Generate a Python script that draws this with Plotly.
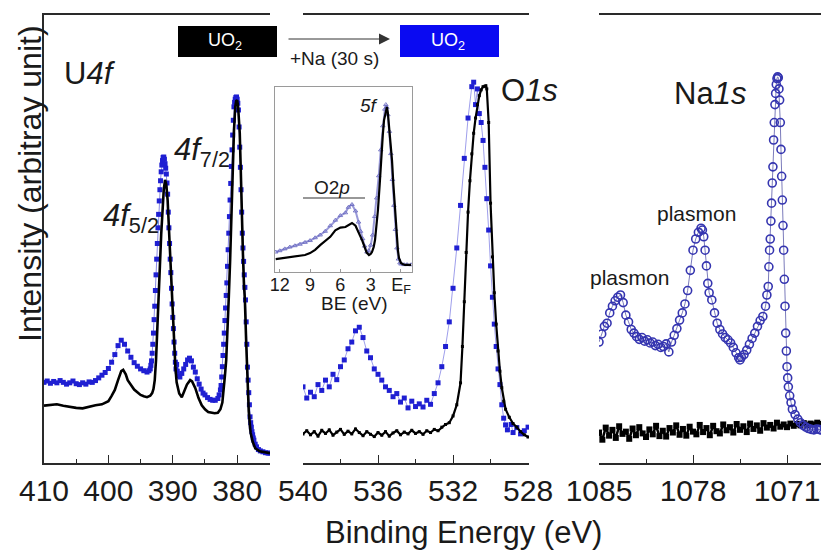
import plotly.graph_objects as go

# ---------------- data ----------------
# U 4f panel
u4f_be_blue = [410.0, 409.5, 409.0, 408.5, 408.0, 407.5, 407.0, 406.5, 406.0, 405.5, 405.0, 404.5, 404.0, 403.5,
               403.0, 402.5, 402.0, 401.5, 401.0, 400.5, 400.0, 399.5, 399.0, 398.5, 398.0, 397.5, 397.0, 396.5,
               396.0, 395.5, 395.0, 394.5, 394.0, 393.7, 393.5, 393.4, 393.3, 393.2, 393.1, 393.0, 392.9, 392.8,
               392.7, 392.6, 392.5, 392.4, 392.3, 392.2, 392.1, 392.0, 391.9, 391.8, 391.7, 391.6, 391.5, 391.4,
               391.3, 391.2, 391.1, 391.0, 390.9, 390.8, 390.7, 390.6, 390.5, 390.4, 390.3, 390.2, 390.1, 390.0,
               389.9, 389.8, 389.7, 389.6, 389.5, 389.4, 389.3, 389.1, 388.9, 388.6, 388.3, 388.0, 387.7, 387.4,
               387.1, 386.8, 386.5, 386.2, 385.9, 385.6, 385.3, 385.0, 384.6, 384.2, 383.8, 383.4, 383.0, 382.8,
               382.6, 382.5, 382.4, 382.3, 382.2, 382.1, 382.0, 381.9, 381.8, 381.7, 381.6, 381.5, 381.4, 381.3,
               381.2, 381.1, 381.0, 380.9, 380.8, 380.7, 380.6, 380.5, 380.4, 380.3, 380.2, 380.1, 380.0, 379.9,
               379.8, 379.7, 379.6, 379.5, 379.4, 379.3, 379.2, 379.1, 379.0, 378.9, 378.8, 378.7, 378.6, 378.5,
               378.4, 378.3, 378.2, 378.1, 378.0, 377.9, 377.8, 377.7, 377.6, 377.5, 377.4, 377.2, 377.0, 376.7,
               376.4, 376.0, 375.6, 375.2, 374.9]
u4f_int_blue = [18.0, 18.3, 17.8, 18.2, 17.9, 18.4, 18.0, 17.6, 17.9, 18.3, 17.7, 17.5, 17.9, 17.6,
                18.1, 18.0, 18.4, 19.0, 19.6, 20.2, 21.1, 22.5, 24.2, 26.2, 27.4, 26.5, 25.0, 23.6,
                22.4, 21.6, 21.0, 20.6, 20.3, 20.6, 21.0, 21.8, 22.8, 24.5, 26.5, 29.0, 32.0, 35.0,
                38.5, 42.0, 45.5, 49.0, 52.5, 55.5, 58.5, 61.0, 63.0, 65.0, 66.5, 67.5, 68.2, 68.3,
                67.8, 66.8, 65.8, 64.5, 62.5, 60.0, 56.0, 52.5, 49.0, 45.5, 42.5, 39.0, 35.5, 32.5,
                30.0, 27.0, 24.5, 22.5, 21.0, 22.0, 20.5, 19.5, 19.2, 20.0, 21.0, 22.0, 23.0, 23.4,
                22.8, 21.4, 20.3, 18.8, 17.6, 16.5, 15.6, 15.2, 14.6, 14.2, 14.0, 14.0, 14.4, 15.2,
                16.3, 17.3, 19.2, 21.5, 24.0, 26.5, 29.0, 31.8, 34.6, 37.4, 40.2, 43.9, 47.6, 51.3,
                55.0, 58.7, 62.4, 66.2, 69.9, 73.2, 76.5, 79.5, 80.5, 81.2, 81.6, 81.7, 81.2, 80.3,
                78.8, 75.0, 70.5, 66.0, 61.0, 56.0, 51.3, 48.0, 45.0, 42.0, 39.2, 36.4, 31.5, 26.5,
                21.4, 18.5, 15.7, 13.0, 10.3, 9.0, 8.0, 7.0, 6.3, 5.6, 5.1, 4.2, 3.6, 3.0,
                2.7, 2.5, 2.3, 2.2, 2.2]

u4f_be_black = [410.0, 409.0, 408.0, 407.0, 406.0, 405.0, 404.0, 403.0, 402.0, 401.0, 400.5, 400.0, 399.5,
                399.0, 398.5, 398.0, 397.7, 397.3, 397.0, 396.5, 396.0, 395.5, 395.0, 394.5, 394.0, 393.5,
                393.2, 393.0, 392.8, 392.6, 392.4, 392.2, 392.0, 391.8, 391.6, 391.4, 391.2, 391.0, 390.8,
                390.6, 390.4, 390.2, 390.0, 389.8, 389.6, 389.4, 389.0, 388.6, 388.2, 387.8, 387.3, 387.0,
                386.5, 386.0, 385.5, 385.0, 384.5, 384.0, 383.5, 383.0, 382.6, 382.3, 382.1, 381.9, 381.7,
                381.5, 381.3, 381.1, 380.9, 380.7, 380.5, 380.3, 380.15, 380.0, 379.85, 379.7, 379.6, 379.45,
                379.3, 379.1, 378.95, 378.8, 378.6, 378.4, 378.2, 378.0, 377.9, 377.6, 377.2, 376.5, 375.5,
                374.9]
u4f_int_black = [12.8, 12.9, 13.1, 12.8, 12.5, 12.3, 12.2, 12.6, 12.9, 13.1, 13.4, 13.8, 15.0,
                 16.3, 18.5, 20.5, 20.8, 19.8, 18.5, 17.3, 16.4, 15.8, 15.2, 14.9, 14.7, 15.0,
                 15.6, 16.5, 18.5, 23.0, 29.0, 37.0, 44.0, 51.0, 57.0, 61.0, 63.2, 62.0, 58.7,
                 52.0, 45.0, 38.0, 31.5, 26.0, 21.5, 18.0, 15.5, 14.7, 16.0, 17.5, 18.5, 18.2,
                 16.7, 14.5, 12.9, 12.0, 11.4, 11.2, 11.1, 11.2, 12.0, 13.5, 16.0, 19.5, 23.0,
                 29.0, 37.0, 45.0, 55.0, 66.0, 74.0, 79.5, 80.8, 81.0, 79.5, 76.0, 73.7, 66.0,
                 55.0, 46.5, 40.0, 36.4, 27.0, 17.9, 11.5, 8.0, 6.7, 4.8, 3.3, 2.6, 2.3,
                 2.2]

# O 1s panel
o1s_be_blue = [540.0, 539.8, 539.6, 539.4, 539.2, 539.0, 538.8, 538.6, 538.4, 538.2, 538.0, 537.8, 537.6,
               537.4, 537.2, 537.0, 536.8, 536.6, 536.4, 536.2, 536.0, 535.8, 535.6, 535.4, 535.2, 535.0,
               534.8, 534.6, 534.4, 534.2, 534.0, 533.8, 533.6, 533.4, 533.2, 533.0, 532.8, 532.6, 532.4,
               532.2, 532.0, 531.8, 531.6, 531.4, 531.2, 531.0, 530.9, 530.8, 530.7, 530.6, 530.5, 530.4,
               530.3, 530.2, 530.1, 530.0, 529.9, 529.8, 529.7, 529.6, 529.5, 529.4, 529.3, 529.2, 529.1,
               528.9, 528.8, 528.6, 528.4, 528.2, 528.0]
o1s_int_blue = [17.0, 14.5, 15.8, 14.8, 17.5, 16.2, 18.5, 17.0, 19.8, 18.6, 21.5, 23.0, 25.5,
                27.0, 29.5, 30.3, 28.0, 25.0, 23.5, 21.0, 19.8, 18.5, 17.0, 16.2, 14.8, 15.5,
                13.6, 14.5, 12.3, 13.8, 12.6, 13.2, 12.5, 14.0, 13.1, 15.5, 17.9, 21.5, 26.0,
                31.5, 39.0, 48.0, 57.5, 68.0, 77.0, 84.0, 85.0, 80.0, 83.5, 78.0, 76.0, 72.0,
                66.0, 59.0, 52.0, 44.0, 37.0, 31.0, 26.0, 21.0, 17.5, 13.0, 10.0, 8.5, 7.4,
                8.6, 6.8, 7.9, 6.5, 7.2, 8.0]

o1s_be_black = [540.0, 539.8, 539.6, 539.4, 539.2, 539.0, 538.8, 538.6, 538.4, 538.2, 538.0, 537.8, 537.6,
                537.4, 537.2, 537.0, 536.8, 536.6, 536.4, 536.2, 536.0, 535.8, 535.6, 535.4, 535.2, 535.0,
                534.8, 534.6, 534.4, 534.2, 534.0, 533.8, 533.6, 533.4, 533.2, 533.0, 532.8, 532.6, 532.4,
                532.2, 532.0, 531.8, 531.6, 531.5, 531.4, 531.3, 531.2, 531.1, 531.0, 530.9, 530.8, 530.7,
                530.6, 530.5, 530.4, 530.3, 530.25, 530.2, 530.1, 530.0, 529.9, 529.8, 529.7, 529.6, 529.5,
                529.4, 529.3, 529.2, 529.0, 528.8, 528.6, 528.4, 528.2, 528.0]
o1s_int_black = [6.5, 7.2, 6.3, 7.0, 6.0, 7.3, 6.6, 7.4, 6.2, 6.9, 7.5, 6.4, 7.1,
                 6.5, 7.6, 6.8, 6.1, 7.0, 6.4, 5.9, 6.8, 6.2, 7.0, 6.0, 6.7, 7.2,
                 6.3, 6.9, 6.5, 7.3, 6.6, 7.0, 6.4, 7.2, 6.8, 7.5, 7.2, 8.0, 8.6,
                 9.0, 10.5, 13.0, 17.9, 26.0, 36.0, 47.0, 56.0, 63.0, 69.0, 73.6, 77.0, 80.0,
                 82.0, 83.3, 84.0, 84.1, 84.2, 83.5, 76.0, 58.0, 46.0, 38.0, 31.0, 25.0, 20.5,
                 16.8, 13.8, 12.0, 10.2, 8.8, 8.0, 7.0, 6.3, 5.8]

# Na 1s panel
na1s_be_blue = [1085.0, 1084.8, 1084.6, 1084.4, 1084.2, 1084.0, 1083.8, 1083.6, 1083.4, 1083.2, 1083.0,
                1082.8, 1082.6, 1082.4, 1082.2, 1082.0, 1081.8, 1081.6, 1081.4, 1081.2, 1081.0, 1080.8,
                1080.6, 1080.4, 1080.2, 1080.0, 1079.8, 1079.6, 1079.4, 1079.2, 1079.0, 1078.8, 1078.6,
                1078.4, 1078.2, 1078.0, 1077.8, 1077.6, 1077.4, 1077.3, 1077.2, 1077.1, 1077.0, 1076.9,
                1076.8, 1076.6, 1076.4, 1076.2, 1076.0, 1075.8, 1075.6, 1075.4, 1075.2, 1075.0, 1074.8,
                1074.6, 1074.5, 1074.4, 1074.2, 1074.0, 1073.8, 1073.6, 1073.4, 1073.2, 1073.0, 1072.8,
                1072.6, 1072.5, 1072.4, 1072.35, 1072.3, 1072.25, 1072.2, 1072.15, 1072.1, 1072.05, 1072.0,
                1071.95, 1071.9, 1071.85, 1071.8, 1071.75, 1071.7, 1071.65, 1071.6, 1071.55, 1071.5, 1071.45,
                1071.4, 1071.35, 1071.3, 1071.25, 1071.2, 1071.15, 1071.1, 1071.05, 1071.0, 1070.95, 1070.9,
                1070.8, 1070.7, 1070.6, 1070.4, 1070.2, 1070.0, 1069.8, 1069.6, 1069.4, 1069.2, 1069.0,
                1068.8, 1068.6, 1068.5]
na1s_int_blue = [27.0, 28.8, 30.5, 31.2, 33.5, 35.0, 36.2, 37.0, 37.5, 35.8, 33.0,
                 31.5, 29.8, 29.0, 28.2, 27.6, 28.0, 27.2, 27.5, 26.8, 27.0, 26.2,
                 26.5, 25.8, 26.0, 26.6, 24.8, 27.0, 28.5, 30.0, 31.9, 33.5, 35.5,
                 38.5, 43.0, 47.5, 50.0, 51.5, 52.4, 52.0, 50.5, 47.5, 44.0, 40.1,
                 38.0, 36.4, 33.5, 31.2, 29.8, 28.8, 28.0, 27.5, 26.8, 25.8, 24.6,
                 23.5, 23.0, 23.6, 24.2, 25.2, 26.5, 27.8, 29.0, 30.5, 31.8, 32.7,
                 35.0, 37.5, 39.4, 43.8, 47.5, 50.0, 54.0, 58.0, 62.5, 66.1, 72.1,
                 76.0, 80.0, 82.5, 84.5, 85.8, 86.2, 86.0, 83.5, 81.0, 76.0, 70.0,
                 64.0, 58.7, 53.0, 47.5, 41.0, 35.0, 29.0, 25.0, 21.5, 19.0, 17.0,
                 15.0, 13.5, 12.0, 10.8, 9.8, 9.0, 8.4, 8.0, 7.7, 7.5, 7.4,
                 7.6, 7.5, 7.4]

na1s_be_black = [1085.0, 1084.75, 1084.5, 1084.25, 1084.0, 1083.75, 1083.5, 1083.25, 1083.0, 1082.75, 1082.5,
                 1082.25, 1082.0, 1081.75, 1081.5, 1081.25, 1081.0, 1080.75, 1080.5, 1080.25, 1080.0, 1079.75,
                 1079.5, 1079.25, 1079.0, 1078.75, 1078.5, 1078.25, 1078.0, 1077.75, 1077.5, 1077.25, 1077.0,
                 1076.75, 1076.5, 1076.25, 1076.0, 1075.75, 1075.5, 1075.25, 1075.0, 1074.75, 1074.5, 1074.25,
                 1074.0, 1073.75, 1073.5, 1073.25, 1073.0, 1072.75, 1072.5, 1072.25, 1072.0, 1071.75, 1071.5,
                 1071.25, 1071.0, 1070.75, 1070.5, 1070.25, 1070.0, 1069.75, 1069.5, 1069.25, 1069.0, 1068.75,
                 1068.5]
na1s_int_black = [6.8, 5.2, 7.9, 6.1, 7.4, 5.6, 8.2, 6.5, 7.0, 5.4, 7.7,
                  6.2, 8.0, 6.6, 5.8, 7.5, 6.4, 8.3, 6.0, 7.2, 5.9, 7.8,
                  6.8, 8.4, 6.3, 7.6, 6.1, 8.1, 7.0, 6.4, 8.5, 6.9, 7.8,
                  6.2, 8.3, 7.1, 6.6, 8.6, 7.3, 8.0, 6.8, 8.7, 7.4, 8.2,
                  6.9, 8.8, 7.6, 8.4, 7.2, 8.9, 7.9, 8.5, 7.7, 9.0, 8.1,
                  8.6, 8.0, 8.8, 8.3, 8.7, 8.4, 8.9, 8.5, 8.8, 8.6, 9.0,
                  8.7]

# Valence-band inset
vb_be_black = [12.4, 12.0, 11.5, 11.0, 10.5, 10.0, 9.5, 9.0, 8.5, 8.0, 7.5, 7.0, 6.5, 6.0, 5.5, 5.2,
               4.85, 4.5, 4.26, 4.0, 3.86, 3.6, 3.4, 3.17, 3.0, 2.87, 2.7, 2.57, 2.4, 2.28, 2.1, 1.98,
               1.8, 1.68, 1.5, 1.39, 1.3, 1.19, 1.05, 0.89, 0.75, 0.59, 0.5, 0.4, 0.3, 0.2, 0.1, 0.0,
               -0.2, -0.4, -0.7, -1.0]
vb_int_black = [7.0, 7.3, 7.8, 8.2, 8.6, 8.9, 9.2, 10.2, 12.0, 14.5, 17.0, 19.0, 22.5, 24.0, 24.3, 25.2,
                26.5, 25.0, 21.6, 19.0, 17.3, 13.0, 10.5, 9.2, 9.8, 10.8, 13.5, 17.3, 25.0, 33.5, 48.0, 60.5,
                74.0, 82.0, 88.0, 89.2, 86.0, 79.5, 70.0, 60.5, 47.0, 33.5, 25.0, 17.3, 11.5, 7.6, 5.8, 4.9,
                4.2, 3.8, 3.8, 3.8]
vb_be_blue = [12.4, 12.0, 11.5, 11.0, 10.5, 10.0, 9.5, 9.0, 8.5, 8.0, 7.5, 7.0, 6.5, 6.0, 5.5, 5.2,
              4.85, 4.5, 4.2, 4.0, 3.8, 3.6, 3.37, 3.2, 3.0, 2.8, 2.6, 2.4, 2.2, 2.0, 1.8, 1.6,
              1.5, 1.4, 1.3, 1.15, 1.0, 0.85, 0.7, 0.55, 0.4, 0.25, 0.1, 0.0, -0.3, -0.6, -1.0]
vb_int_blue = [10.8, 11.5, 12.5, 13.5, 14.2, 15.0, 16.0, 17.0, 18.5, 20.0, 22.0, 25.0, 28.0, 30.5, 32.0, 35.0,
               36.5, 33.0, 27.0, 22.0, 18.0, 14.0, 10.8, 11.5, 14.5, 20.0, 30.0, 40.0, 52.0, 66.0, 79.0, 88.0,
               90.5, 89.0, 85.0, 76.0, 64.0, 50.0, 36.0, 23.0, 13.0, 7.0, 5.0, 4.3, 4.0, 4.0, 3.9]

# tick labels
u4f_ticks = [410, 400, 390, 380]
o1s_ticks = [540, 536, 532, 528]
na1s_ticks = [1085, 1078, 1071]
vb_ticks = [12, 9, 6, 3, 0]
vb_ticktext = ["12", "9", "6", "3", "E<sub>F</sub>"]

# ---------------- figure ----------------
W, H = 821, 552
FONT = "Liberation Sans, Arial, Helvetica, sans-serif"


def px(x):
    return x / W


def py(y):
    return 1 - y / H


BLUE = "#1f1fd2"
fig = go.Figure()

# U4f
fig.add_trace(go.Scatter(x=u4f_be_blue, y=u4f_int_blue, mode="lines+markers", xaxis="x", yaxis="y",
                         line=dict(color="rgba(40,40,210,0.55)", width=1),
                         marker=dict(symbol="square", size=5, color=BLUE)))
fig.add_trace(go.Scatter(x=u4f_be_black, y=u4f_int_black, mode="lines", xaxis="x", yaxis="y",
                         line=dict(color="#000000", width=2.6)))
# O1s
fig.add_trace(go.Scatter(x=o1s_be_blue, y=o1s_int_blue, mode="lines+markers", xaxis="x2", yaxis="y2",
                         line=dict(color="rgba(40,40,210,0.45)", width=1),
                         marker=dict(symbol="square", size=5, color=BLUE)))
fig.add_trace(go.Scatter(x=o1s_be_black, y=o1s_int_black, mode="lines+markers", xaxis="x2", yaxis="y2",
                         line=dict(color="#000000", width=2.2),
                         marker=dict(symbol="square", size=3, color="#000000")))
# Na1s
fig.add_trace(go.Scatter(x=na1s_be_black, y=na1s_int_black, mode="lines+markers", xaxis="x3", yaxis="y3",
                         line=dict(color="#000000", width=2.5),
                         marker=dict(symbol="square", size=6, color="#000000")))
fig.add_trace(go.Scatter(x=na1s_be_blue, y=na1s_int_blue, mode="lines+markers", xaxis="x3", yaxis="y3",
                         line=dict(color="rgba(90,90,170,0.8)", width=1),
                         marker=dict(symbol="circle-open", size=8, color="#3535b0", line=dict(width=1.6))))
# inset
fig.add_trace(go.Scatter(x=vb_be_blue, y=vb_int_blue, mode="lines+markers", xaxis="x4", yaxis="y4",
                         line=dict(color="rgba(110,110,200,0.7)", width=2),
                         marker=dict(symbol="triangle-up-open", size=4, color="rgba(100,100,190,0.8)")))
fig.add_trace(go.Scatter(x=vb_be_black, y=vb_int_black, mode="lines", xaxis="x4", yaxis="y4",
                         line=dict(color="#000000", width=2.2, dash="solid")))

ydom = [py(463), py(15)]
LC = "#2a2a2a"
tickfont = dict(family=FONT, size=30, color="#1a1a1a")


def xax(domain, rng, ticks, minor, anchor):
    return dict(domain=domain, range=rng, anchor=anchor, showline=True, mirror=True, linecolor=LC,
                linewidth=1.5, ticks="inside", ticklen=8, tickwidth=1.3, tickcolor=LC,
                tickvals=ticks, ticktext=[str(t) for t in ticks], tickfont=tickfont,
                showgrid=False, zeroline=False, ticklabelstandoff=0, automargin=False,
                minor=dict(tickvals=minor, ticks="inside", ticklen=4, tickwidth=1.2, tickcolor=LC))


fig.update_layout(
    template="none",
    width=W, height=H, margin=dict(l=0, r=0, t=0, b=0, pad=0, autoexpand=False),
    paper_bgcolor="white", plot_bgcolor="rgba(0,0,0,0)", showlegend=False,
    font=dict(family=FONT, color="#1a1a1a"),
    xaxis=xax([px(44), px(270)], [410, 374.9], u4f_ticks, [405, 395, 385, 375], "y"),
    yaxis=dict(domain=ydom, range=[0, 100], anchor="x", showline=True, linecolor=LC, linewidth=1.5,
               ticks="", showticklabels=False, showgrid=False, zeroline=False, automargin=False),
    xaxis2=xax([px(303), px(529)], [540, 527.95], o1s_ticks, [538, 534, 530], "y2"),
    yaxis2=dict(domain=ydom, range=[0, 100], anchor="x2", visible=False, automargin=False),
    xaxis3=xax([px(599), 1.0], [1085, 1068.47], na1s_ticks, [1081.5, 1074.5], "y3"),
    yaxis3=dict(domain=ydom, range=[0, 100], anchor="x3", visible=False, automargin=False),
    xaxis4=dict(domain=[px(275), px(412)], range=[12.47, -1.09], anchor="y4", showline=True, mirror=True,
                linecolor="#9a9a9a", linewidth=1.2, ticks="inside", ticklen=3, tickcolor="#9a9a9a",
                tickvals=vb_ticks, ticktext=vb_ticktext, automargin=False,
                tickfont=dict(family=FONT, size=18, color="#1a1a1a"), ticklabelstandoff=-4,
                showgrid=False, zeroline=False),
    yaxis4=dict(domain=[py(272), py(87)], range=[0, 100], anchor="x4", showline=True, mirror=True,
                linecolor="#9a9a9a", linewidth=1.2, ticks="", showticklabels=False, automargin=False,
                showgrid=False, zeroline=False),
)

shapes = [
    dict(type="rect", xref="paper", yref="paper", x0=px(178), x1=px(277), y0=py(57), y1=py(26),
         fillcolor="#000000", line=dict(width=0)),
    dict(type="rect", xref="paper", yref="paper", x0=px(400), x1=px(499), y0=py(57), y1=py(25),
         fillcolor="#0a0af2", line=dict(width=0)),
    dict(type="line", xref="paper", yref="paper", x0=px(303), x1=px(365), y0=py(198), y1=py(198),
         line=dict(color="#333333", width=1.2)),
]
fig.update_layout(shapes=shapes)


def ann(text, x, y, size, color="#1a1a1a", xanchor="center", yanchor="middle", angle=0):
    return dict(text=text, x=px(x), y=py(y), xref="paper", yref="paper", showarrow=False,
                xanchor=xanchor, yanchor=yanchor, textangle=angle,
                font=dict(family=FONT, size=size, color=color))


annotations = [
    ann("U<i>4f</i>", 62, 73, 31, xanchor="left"),
    ann("<i>4f</i><sub>7/2</sub>", 172, 152, 31, xanchor="left"),
    ann("<i>4f</i><sub>5/2</sub>", 101, 218, 31, xanchor="left"),
    ann("O<i>1s</i>", 499, 90, 31, xanchor="left"),
    ann("Na<i>1s</i>", 672, 94, 31, xanchor="left"),
    ann("plasmon", 629, 277, 21),
    ann("plasmon", 696, 213, 21),
    ann("<i>5f</i>", 369, 105, 19),
    ann("O2<i>p</i>", 332, 188, 19),
    ann("BE (eV)", 354, 303, 19),
    ann("UO<sub>2</sub>", 225, 41, 18, color="white"),
    ann("UO<sub>2</sub>", 448, 41, 18, color="white"),
    ann("+Na (30 s)", 334, 58, 19),
    ann("Binding Energy (eV)", 463, 532, 31),
    ann("Intensity (arbitray unit)", 30, 184, 32, angle=-90),
    dict(text="", x=px(390), y=py(39), ax=-103, ay=0, xref="paper", yref="paper",
         axref="pixel", ayref="pixel", showarrow=True, arrowhead=2, arrowsize=2.2, arrowwidth=1,
         arrowcolor="#333333"),
]
fig.update_layout(annotations=annotations)

fig.write_html("out.html", config={"displayModeBar": False},
               post_script="document.body.style.margin='0';document.body.style.padding='0';"
                           "document.body.style.overflow='hidden';")
